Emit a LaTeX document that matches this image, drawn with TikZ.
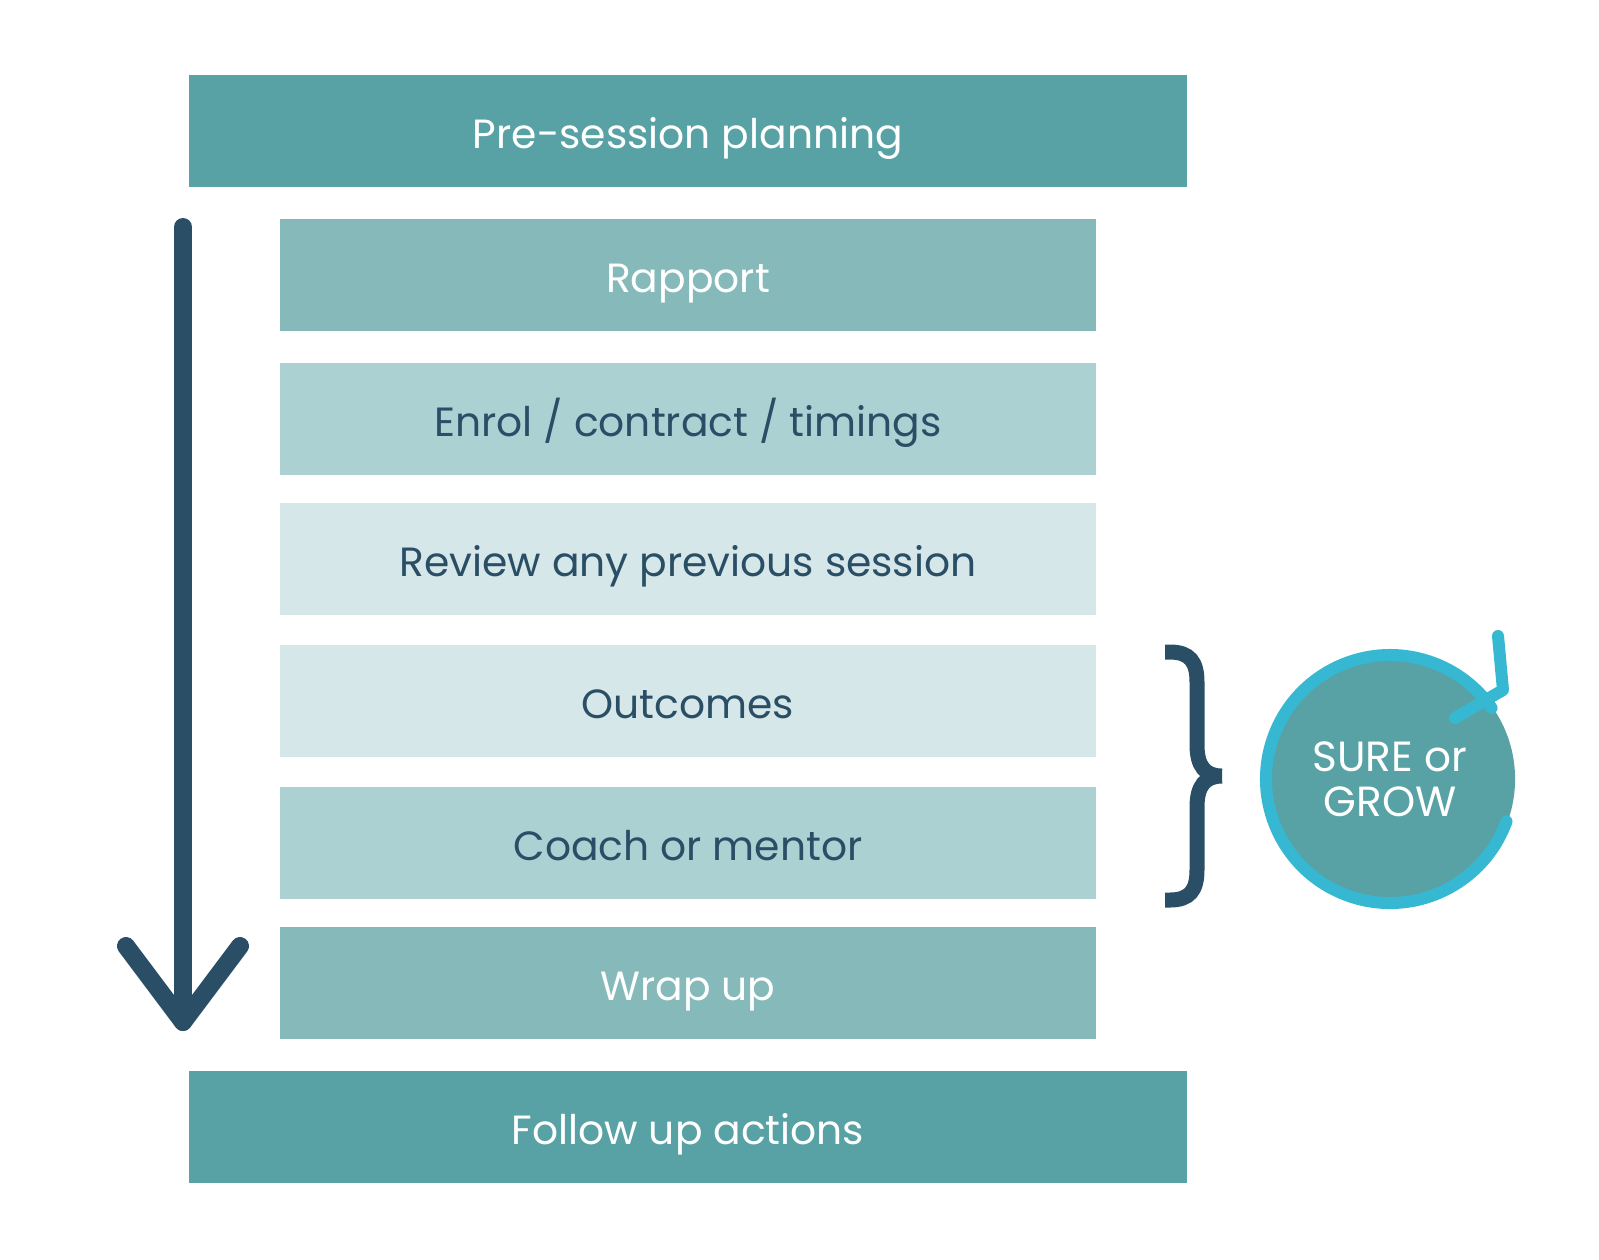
\documentclass[tikz,border=0pt]{standalone}
\usepackage{fontspec}
\setmainfont{Poppins}

\definecolor{boxdark}{HTML}{58A2A5}
\definecolor{boxmid}{HTML}{85B9BA}
\definecolor{boxlight}{HTML}{ACD1D2}
\definecolor{boxpale}{HTML}{D5E7E8}
\definecolor{navy}{HTML}{2A4E66}
\definecolor{ringblue}{HTML}{36B8D2}

\begin{document}
\begin{tikzpicture}[x=0.01cm,y=-0.01cm,
  stage/.style={minimum height=1.12cm, inner sep=0pt, text height=1.0em, text depth=0pt, font=\fontsize{11.6}{13}\selectfont},
  wide/.style={stage, minimum width=9.98cm, fill=boxdark, text=white},
  narrow/.style={stage, minimum width=8.16cm}]
\useasboundingbox (0,0) rectangle (1599,1259);

% steps of the session
\node[wide] (pre) at (688,131) {Pre-session planning};
\node[narrow, fill=boxmid, text=white] (rapport) at (688,275) {Rapport};
\node[narrow, fill=boxlight, text=navy] (enrol) at (688,419) {Enrol / contract / timings};
\node[narrow, fill=boxpale, text=navy] (review) at (688,559) {Review any previous session};
\node[narrow, fill=boxpale, text=navy] (outcomes) at (688,701) {Outcomes};
\node[narrow, fill=boxlight, text=navy] (coach) at (688,843) {Coach or mentor};
\node[narrow, fill=boxmid, text=white] (wrap) at (688,983) {Wrap up};
\node[wide] (follow) at (688,1127) {Follow up actions};

% big arrow down the left
\coordinate (flowtop) at (183,227);
\coordinate (flowend) at (183,1022);
\draw[navy, line width=0.18 cm, line cap=round] (flowtop) -- (flowend);
\draw[navy, line width=0.18 cm, line cap=round, line join=round] (126,946) -- (flowend) -- (240,946);

% brace and loop
\coordinate (bracetop) at (1165,652);
\coordinate (bracetip) at (1222,776);
\coordinate (bracebot) at (1165,900);
\draw[navy, line width=0.15 cm]
  (bracetop) -- (1170,652) .. controls (1190,652) and (1197,662) .. (1197,682) -- (1197,745)
  .. controls (1197,766) and (1205,776) .. (bracetip)
  (bracebot) -- (1170,900) .. controls (1190,900) and (1197,890) .. (1197,870) -- (1197,807)
  .. controls (1197,786) and (1205,776) .. (bracetip);

\node[circle, fill=boxdark, minimum size=2.5cm, inner sep=0pt, align=center, text=white,
  font=\fontsize{12}{12.8}\selectfont] (sure) at (1390,779) {SURE or\\GROW};
\draw[ringblue, line width=0.12 cm, line cap=round] (sure.center) ++(20:124) arc (20:325:124);
\draw[ringblue, line width=0.12 cm, line cap=round, line join=round] (1498,636) -- (1503,690) -- (1455,718);
\end{tikzpicture}
\end{document}
